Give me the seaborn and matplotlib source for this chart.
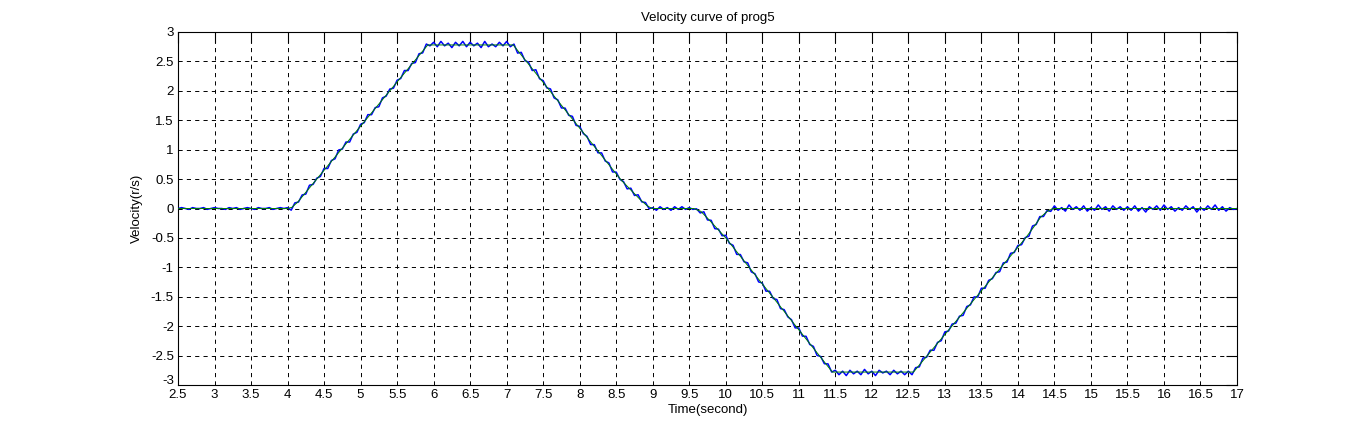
import numpy as np
import pandas as pd
import matplotlib
matplotlib.use("Agg")
import matplotlib.pyplot as plt
import matplotlib.transforms as mtransforms
import seaborn as sns

# Reference (green) velocity profile, breakpoints
t_ref = [2.5, 4.0, 4.06, 4.14, 4.40, 5.92, 7.09, 8.57, 8.72, 8.83, 8.92, 8.99,
         9.56, 9.66, 9.77, 10.0, 11.46, 12.57, 14.10, 14.22, 14.31, 14.40, 14.48, 17.0]
v_ref = [0.0, 0.0, 0.02, 0.11, 0.50, 2.78, 2.78, 0.48, 0.29, 0.15, 0.05, 0.0,
         0.0, -0.05, -0.19, -0.50, -2.78, -2.78, -0.51, -0.31, -0.15, -0.05, 0.0, 0.0]

# Measured (blue) velocity: sampled every 0.05 s, deviations from the
# reference estimated from the picture (units of 0.015 r/s)
t_start, t_step = 2.5, 0.05
dev_blue = [
    0, 1, 0, -1, 1, 0, 0, 1, -1, 0, 1, 0, 0, -1, 1, 0, 1, -1, 0, 1,
    0, -1, 1, 0, 0, 1, -1, 0, 1, 0, 1, -3, 2, -1, 2, -2, 3, -1, 1, -2,
    2, -3, 1, -2, 3, -1, 2, -3, 1, -2, 2, -1, 3, -2, 1, -3, 2, -1, 2, -2,
    2, -1, 3, -2, 1, -3, 2, -2, 3, -1, 3, -2, 4, -1, 2, -3, 3, -1, 4, -2,
    3, -1, 2, -3, 4, -2, 1, -2, 3, -1, 4, -2, 2, -3, 3, -1, 2, -2, 4, -1,
    2, -1, 3, -2, 1, -3, 2, -1, 3, -2, 2, -1, 1, -3, 2, -2, 3, -1, 2, -3,
    2, -1, 1, -3, 2, -2, 3, -1, 2, -2, 1, -2, 2, -1, 1, -2, 2, -1, 2, -1,
    1, -1, 1, -2, 3, -2, 2, -3, 1, -2, 3, -1, 2, -3, 2, -1, 3, -2, 1, -3,
    1, -3, 2, -1, 3, -2, 2, -1, 1, -3, 2, -2, 3, -1, 2, -3, 1, -2, 3, -1,
    2, -3, 1, -4, 2, -2, 1, -3, 3, -2, 1, -4, 2, -1, 1, -3, 2, -2, 1, -3,
    1, -3, 2, -2, 3, -1, 2, -3, 1, -2, 3, -1, 2, -2, 1, -3, 2, -1, 3, -2,
    3, -2, 2, -1, 1, -3, 2, -2, 3, -1, 2, -2, 1, -3, 3, -1, 2, -2, 1, -2,
    3, -2, 1, -3, 4, -1, 2, -2, 3, -3, 1, -2, 4, -1, 2, -3, 3, -1, 2, -2,
    2, -2, 3, -3, 1, -4, 2, -1, 3, -2, 4, -1, 2, -3, 1, -2, 3, -1, 2, -4,
    1, -2, 3, -1, 4, -2, 2, -3, 1, -1, 0,
]
dev_unit = 0.015

x_ticks = [2.5 + 0.5 * i for i in range(30)]
y_ticks = [-3 + 0.5 * i for i in range(13)]
x_tick_labels = [f"{v:g}" for v in x_ticks]
y_tick_labels = [f"{v:g}" for v in y_ticks]

title_text = "Velocity curve of prog5"
x_label = "Time(second)"
y_label = "Velocity(r/s)"

# ---- build data frames
t_blue = t_start + t_step * np.arange(len(dev_blue))
v_blue = np.interp(t_blue, t_ref, v_ref) + dev_unit * np.array(dev_blue)
df_blue = pd.DataFrame({"t": t_blue, "v": v_blue})
df_ref = pd.DataFrame({"t": t_ref, "v": v_ref})

sns.set_style("white")
plt.rcParams["font.family"] = ["Liberation Sans", "DejaVu Sans"]
plt.rcParams["lines.scale_dashes"] = False

fig = plt.figure(figsize=(13.66, 4.33), dpi=100)
ax = fig.add_axes([178 / 1366, 1 - 385 / 433, (1237 - 178) / 1366, (385 - 32) / 433])

sns.lineplot(data=df_blue, x="t", y="v", ax=ax, color=(0, 0, 1), linewidth=1.1,
             estimator=None, sort=False, zorder=3)
sns.lineplot(data=df_ref, x="t", y="v", ax=ax, color=(0, 0.5, 0), linewidth=0.7,
             estimator=None, sort=False, zorder=4)

ax.set_xlim(2.5, 17)
ax.set_ylim(-3, 3)
ax.set_xticks(x_ticks)
ax.set_xticklabels(x_tick_labels)
ax.set_yticks(y_ticks)
ax.set_yticklabels(y_tick_labels)

ax.grid(True, color="black", linestyle=(0, (3, 3)), linewidth=0.7)
ax.set_axisbelow(True)
for s in ax.spines.values():
    s.set_color("black")
    s.set_linewidth(0.8)
    s.set_visible(True)

ax.tick_params(direction="in", length=7.6, width=0.8, top=True, right=True,
               labelsize=9.5, pad=3, colors="black")

# MATLAB lifts the lowest y label so it clears the first x label
lbl = ax.get_yticklabels()[0]
lbl.set_transform(lbl.get_transform() + mtransforms.ScaledTranslation(0, 5 / 100, fig.dpi_scale_trans))

ax.set_title(title_text, fontsize=9.5, pad=8, color="black")
ax.set_xlabel(x_label, fontsize=9.5, labelpad=2, color="black")
ax.set_ylabel(y_label, fontsize=9.5, labelpad=6, color="black")

fig.savefig("out.png", dpi=100, facecolor="white")
